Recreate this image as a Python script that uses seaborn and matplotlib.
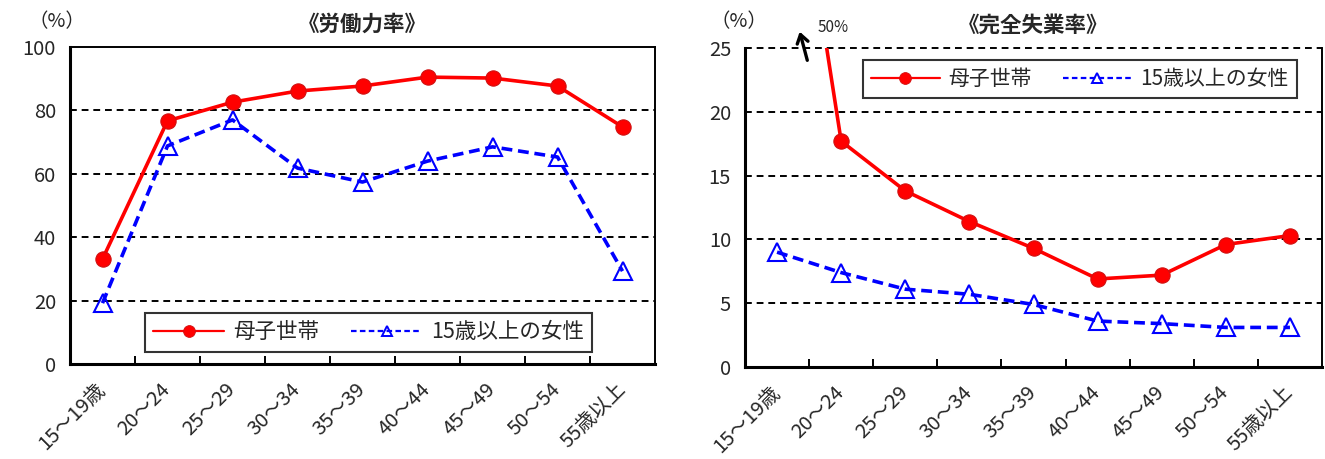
import matplotlib
matplotlib.use("Agg")
import matplotlib.pyplot as plt
from matplotlib.lines import Line2D
import numpy as np
import pandas as pd
import seaborn as sns

sns.set_style("white")
plt.rcParams["font.family"] = ["Noto Sans CJK JP", "DejaVu Sans"]

# Age groups
ages = ["15～19歳", "20～24", "25～29", "30～34", "35～39",
        "40～44", "45～49", "50～54", "55歳以上"]

series_names = ["母子世帯", "15歳以上の女性"]

# Labour force participation rate (%)
lfpr_single_mothers = [33.1, 76.7, 82.6, 86.1, 87.7, 90.5, 90.2, 87.7, 74.8]
lfpr_women = [19.2, 68.8, 77.0, 61.8, 57.4, 64.0, 68.5, 65.3, 29.3]

# Unemployment rate (%)
unemp_single_mothers = [50.0, 17.7, 13.8, 11.4, 9.3, 6.9, 7.2, 9.6, 10.3]
unemp_women = [9.0, 7.4, 6.1, 5.7, 4.9, 3.6, 3.4, 3.1, 3.1]

RED = "#FF0000"
RED_EDGE = "#D01010"
BLUE = "#0000FF"

fig = plt.figure(figsize=(13.25, 4.59), dpi=100)
ax1 = fig.add_axes([70 / 1325, 1 - 364 / 459, 585 / 1325, 317 / 459])
ax2 = fig.add_axes([745 / 1325, 1 - 367 / 459, 577 / 1325, 319 / 459])


def draw_panel(ax, mothers, women, ymax, ystep, title, dashed_top):
    df = pd.DataFrame({"age": ages, "母子世帯": mothers, "15歳以上の女性": women})
    # dashed reference lines under the series
    top = ymax - 0.01 if not dashed_top else ymax + 0.01
    for yv in np.arange(ystep, top, ystep):
        ax.axhline(yv, color="black", lw=1.4, ls=(0, (3.5, 2.5)), zorder=1,
                   clip_on=False)
    sns.lineplot(data=df, x="age", y="母子世帯", ax=ax, color=RED, lw=2.6,
                 marker="o", markersize=11, markerfacecolor=RED,
                 markeredgecolor=RED_EDGE, markeredgewidth=0.8,
                 sort=False, zorder=4)
    sns.lineplot(data=df, x="age", y="15歳以上の女性", ax=ax, color=BLUE, lw=2.6,
                 marker="^", markersize=12.5, markerfacecolor="none",
                 markeredgecolor=BLUE, markeredgewidth=1.5,
                 sort=False, zorder=3)
    ax.lines[-1].set_linestyle((0, (3, 1.6)))
    ax.set_xlim(-0.5, len(ages) - 0.5)
    ax.set_ylim(0, ymax)
    yt = np.arange(0, ymax + 0.01, ystep)
    ax.set_yticks(yt)
    ax.set_yticklabels([f"{int(v)}" for v in yt], fontsize=14.5)
    ax.set_xticks(range(len(ages)))
    ax.set_xticklabels(ages, fontsize=14.5, rotation=45, ha="right",
                       va="center", rotation_mode="anchor")
    ax.set_xticks(np.arange(0.5, len(ages) - 1, 1.0), minor=True)
    ax.tick_params(axis="x", which="major", length=0, pad=16)
    ax.tick_params(axis="x", which="minor", direction="in", length=6,
                   width=1.4, color="black", bottom=True)
    ax.tick_params(axis="y", length=0, pad=10)
    ax.set_xlabel("")
    ax.set_ylabel("")
    for side in ["left", "bottom"]:
        ax.spines[side].set_linewidth(2.2)
        ax.spines[side].set_color("black")
    for side in ["right", "top"]:
        ax.spines[side].set_linewidth(1.4)
        ax.spines[side].set_color("black")
    if dashed_top:
        ax.spines["top"].set_visible(False)
    ax.set_title(title, fontsize=15.5, fontweight="bold", pad=12)
    ax.grid(False)
    if ax.get_legend() is not None:
        ax.get_legend().remove()


draw_panel(ax1, lfpr_single_mothers, lfpr_women, 100, 20, "《労働力率》", False)
draw_panel(ax2, unemp_single_mothers, unemp_women, 25, 5, "《完全失業率》", True)

fig.text(28 / 1325, 1 - 22 / 459, "（%）", fontsize=14, ha="left", va="center")
fig.text(711 / 1325, 1 - 22 / 459, "（%）", fontsize=14, ha="left", va="center")

# Off-scale marker for the 15-19 unemployment rate
fig.add_artist(matplotlib.patches.FancyArrowPatch(
    (808 / 1325, 1 - 63 / 459), (799 / 1325, 1 - 29 / 459),
    transform=fig.transFigure, arrowstyle="->,head_length=6,head_width=4",
    lw=2.4, color="black", mutation_scale=1))
fig.text(818 / 1325, 1 - 28 / 459, f"{unemp_single_mothers[0]:.0f}%",
         fontsize=11, ha="left", va="center")

handles = [
    Line2D([], [], color=RED, lw=1.6, marker="o", markersize=8.5,
           markerfacecolor=RED, markeredgecolor=RED_EDGE, markeredgewidth=0.6),
    Line2D([], [], color=BLUE, lw=1.6, ls=(0, (2.5, 1.5)), marker="^",
           markersize=7.5, markerfacecolor="none", markeredgecolor=BLUE,
           markeredgewidth=1.4),
]
for ax, anchor, fs in [(ax1, (0.51, 0.10), 15.5), (ax2, (0.58, 0.903), 15)]:
    leg = ax.legend(handles, series_names, loc="center", bbox_to_anchor=anchor,
                    ncol=2, fontsize=fs, frameon=True, fancybox=False,
                    edgecolor="black", handlelength=3.3, handletextpad=0.4,
                    columnspacing=1.5, borderpad=0.4)
    leg.get_frame().set_linewidth(1.5)
    leg.set_zorder(6)

fig.savefig("out.png", dpi=100)
